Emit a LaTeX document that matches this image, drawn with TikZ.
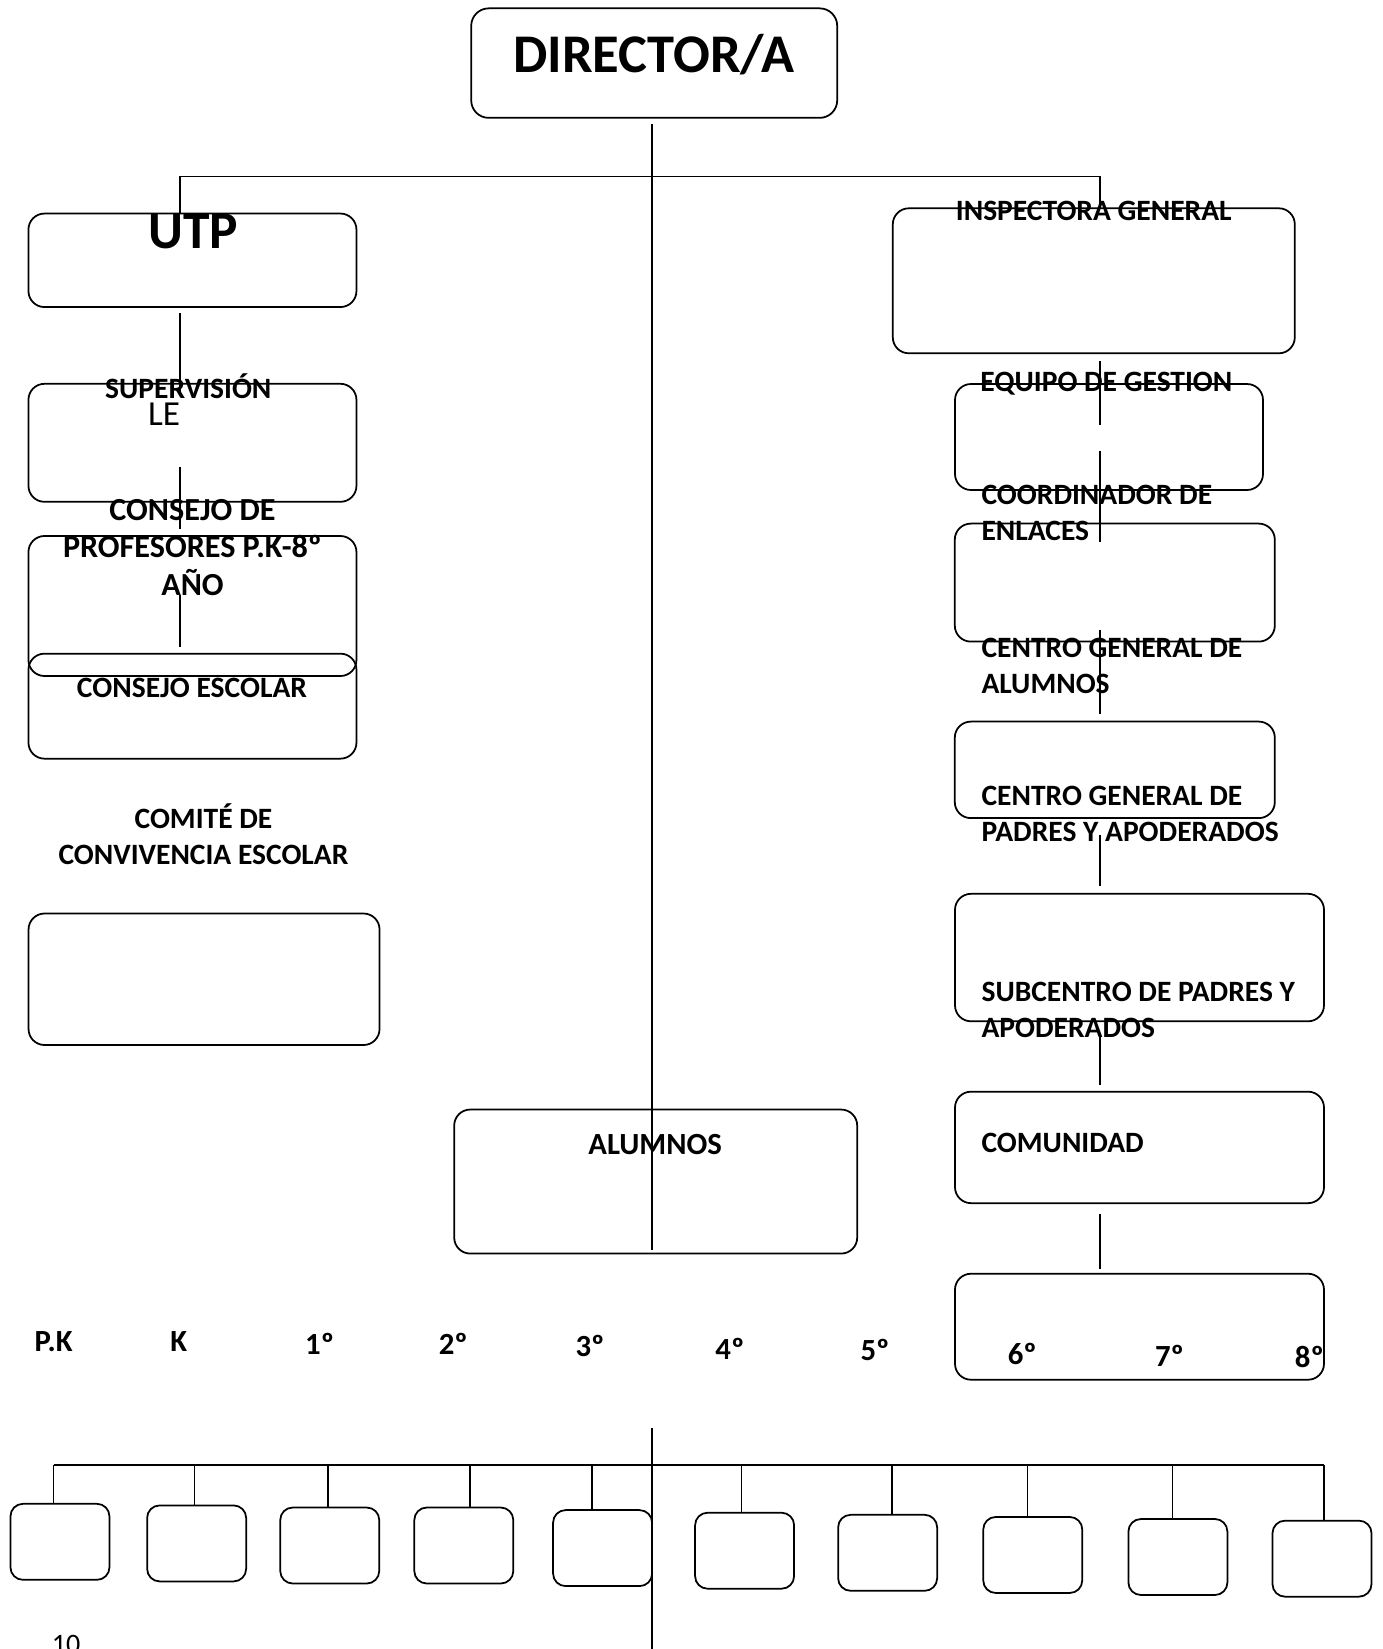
\documentclass[tikz,border=0pt]{standalone}
\usepackage{fontspec}
\setmainfont{Carlito}

\begin{document}
\begin{tikzpicture}[
		caja/.style={
			draw,
			line width=1pt,
			rounded corners=0.32cm,
			inner sep=0pt
		},
		grado/.style={
			caja,
			rounded corners=0.25cm,
			minimum width=1.98cm,
			minimum height=1.52cm
		},
		linea/.style={line width=0.8pt},
		titulo/.style={
			font=\bfseries\fontsize{16.8}{20.5}\selectfont,
			inner sep=0pt
		}
		]
		
		\useasboundingbox (0,0) rectangle (27.66,-32.98);
		
		% Director
		\node[caja, rounded corners=0.35cm, minimum width=7.32cm, minimum height=2.19cm] (dir) at (13.084,-1.262) {};
		\node[inner sep=0pt, font=\bfseries\fontsize{31}{36}\selectfont] (dirtxt) at (13.08,-1.09) {DIRECTOR/A};
		
		% Left column
		\node[caja, minimum width=6.56cm, minimum height=1.87cm] (utp) at (3.849,-5.206) {};
		\node[caja, minimum width=6.56cm, minimum height=2.36cm] (sup) at (3.849,-8.856) {};
		\node[caja, minimum width=6.56cm, minimum height=2.80cm] (cdp) at (3.849,-12.12) {};
		\node[caja, minimum width=6.56cm, minimum height=2.10cm] (cescolar) at (3.849,-14.123) {};
		\node[caja, minimum width=7.02cm, minimum height=2.63cm] (comite) at (4.081,-19.585) {};
		
		\node[inner sep=0pt, font=\bfseries\fontsize{30.4}{34}\selectfont] (utptxt) at (3.87,-4.62) {UTP};
		\node[titulo] (suptxt) at (3.766,-7.72) {SUPERVISIÓN};
		\node[inner sep=0pt, font=\fontsize{20}{24}\selectfont] (letxt) at (3.282,-8.29) {LE};
		\node[titulo, align=center, font=\bfseries\fontsize{18.3}{21.5}\selectfont] (cdptxt) at (3.85,-10.95) {CONSEJO DE\\PROFESORES P.K-8º\\AÑO};
		\node[titulo] (cetxt) at (3.84,-13.76) {CONSEJO ESCOLAR};
		\node[titulo, align=center] (comitetxt) at (4.07,-16.676) {COMITÉ DE\\CONVIVENCIA ESCOLAR};
		
		% Right column
		\node[caja, minimum width=8.04cm, minimum height=2.90cm] (insp) at (21.876,-5.616) {};
		\node[caja, minimum width=6.16cm, minimum height=2.12cm] (equipo) at (22.18,-8.74) {};
		\node[caja, minimum width=6.40cm, minimum height=2.36cm] (enlaces) at (22.296,-11.652) {};
		\node[caja, minimum width=6.40cm, minimum height=1.93cm] (cga) at (22.296,-15.397) {};
		\node[caja, minimum width=7.38cm, minimum height=2.55cm] (cgpa) at (22.79,-19.151) {};
		\node[caja, minimum width=7.38cm, minimum height=2.23cm] (comunidad) at (22.79,-22.948) {};
		\node[caja, minimum width=7.38cm, minimum height=2.12cm] (cursos) at (22.79,-26.534) {};
		
		\node[titulo] (insptxt) at (21.876,-4.228) {INSPECTORA GENERAL};
		\node[titulo] (equipotxt) at (22.128,-7.678) {EQUIPO DE GESTION};
		\node[titulo, align=left, anchor=west] (enlacestxt) at (19.624,-10.265) {COORDINADOR DE\\ENLACES};
		\node[titulo, align=left, anchor=west] (cgatxt) at (19.624,-13.325) {CENTRO GENERAL DE\\ALUMNOS};
		\node[titulo, align=left, anchor=west] (cgpatxt) at (19.624,-16.269) {CENTRO GENERAL DE\\PADRES Y APODERADOS};
		\node[titulo, align=left, anchor=west] (subtxt) at (19.624,-20.193) {SUBCENTRO DE PADRES Y\\APODERADOS};
		\node[titulo, anchor=west] (comtxt) at (19.624,-22.864) {COMUNIDAD};
		
		% Alumnos
		\node[caja, minimum width=8.06cm, minimum height=2.88cm] (alumnos) at (13.114,-23.631) {};
		\node[titulo, font=\bfseries\fontsize{17.5}{21}\selectfont] (alutxt) at (13.104,-22.886) {ALUMNOS};
		
		% Connections
		\coordinate (eje1) at (13.04,-2.48);
		\coordinate (eje2) at (13.04,-24.99);
		\coordinate (ramaL) at (3.596,-3.534);
		\coordinate (ramaR) at (22.002,-3.534);
		\coordinate (colL) at (3.596,0);
		\coordinate (colR) at (22.002,0);
		
		\draw[linea] (eje1) -- (eje2);
		\draw[linea] (ramaL |- utp.north) -- (ramaL) -- (ramaR) -- (ramaR |- insp.north);
		
		\draw[linea] ([yshift=-0.106cm]colL |- utp.south) -- ([yshift=-0.21cm]colL |- sup.north);
		\draw[linea] ([yshift=0.714cm]colL |- sup.south) -- ([yshift=0.12cm]colL |- cdp.north);
		\draw[linea] ([yshift=1.64cm]colL |- cdp.south) -- ([yshift=0.114cm]colL |- cescolar.north);
		
		\draw[linea] ([yshift=-0.146cm]colR |- insp.south) -- ([yshift=-0.84cm]colR |- equipo.north);
		\draw[linea] ([yshift=0.8cm]colR |- equipo.south) -- ([yshift=-0.38cm]colR |- enlaces.north);
		\draw[linea] ([yshift=0.252cm]colR |- enlaces.south) -- ([yshift=0.126cm]colR |- cga.north);
		\draw[linea] ([yshift=-0.316cm]colR |- cga.south) -- ([yshift=0.146cm]colR |- cgpa.north);
		\draw[linea] ([yshift=-0.21cm]colR |- cgpa.south) -- ([yshift=0.106cm]colR |- comunidad.north);
		\draw[linea] ([yshift=-0.19cm]colR |- comunidad.south) -- ([yshift=0.084cm]colR |- cursos.north);
		
		% Grades
		\foreach \g/\x/\y in {P.K/1.072/-26.84, K/3.576/-26.84, 1º/6.394/-26.882, 2º/9.066/-26.882, 3º/11.8/-26.924, 4º/14.598/-26.986, 5º/17.5/-27.008, 6º/20.446/-27.07, 7º/23.39/-27.112, 8º/26.188/-27.134}
		\node[titulo, font=\bfseries\fontsize{17.5}{21}\selectfont] at (\x,\y) {\g};
		
		% Bottom row
		\coordinate (eje3) at (13.04,-28.56);
		\coordinate (eje4) at (13.04,-32.98);
		\draw[linea] (eje3) -- (eje4);
		
		\foreach \n/\bx/\by/\dx in {1/1.199/-30.836/1.072, 2/3.933/-30.868/3.892, 3/6.595/-30.91/6.562, 4/9.276/-30.91/9.402, 5/12.052/-30.962/11.842, 6/14.892/-31.014/14.828, 7/17.753/-31.056/17.836, 8/20.655/-31.099/20.55, 9/23.558/-31.14/23.452, 10/26.44/-31.173/26.482}
		{
			\node[grado] (g\n) at (\bx,\by) {};
			\coordinate (barra\n) at (\dx,-29.3);
			\draw[linea] (barra\n) -- (barra\n |- g\n.north);
		}
		\draw[linea] (barra1) -- (barra10);
		
		\node[inner sep=0pt, anchor=north, font=\fontsize{16}{20}\selectfont] (pag) at (1.32,-32.70) {10};
		
	\end{tikzpicture}
\end{document}
